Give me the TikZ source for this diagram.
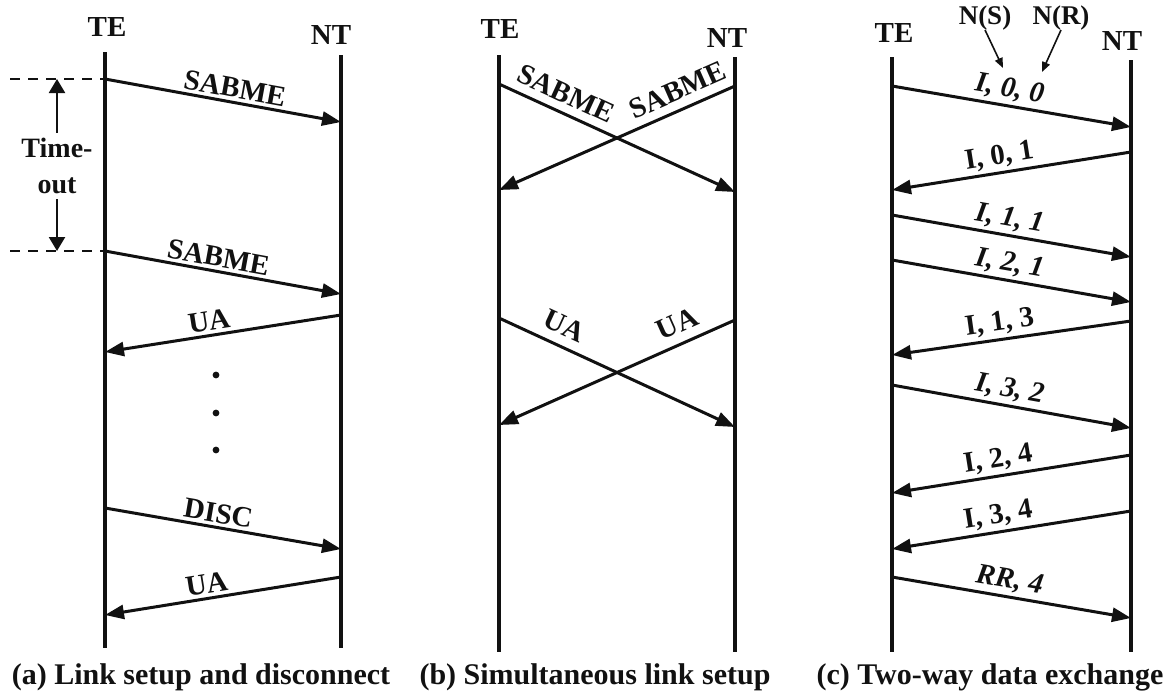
\documentclass[tikz,border=0pt]{standalone}
\usepackage{fontspec}
\setmainfont{Liberation Serif}
\usetikzlibrary{arrows.meta}
\definecolor{ink}{HTML}{111111}
\tikzset{life/.style={draw=ink,line width=3.6pt},msg/.style={draw=ink,-{Triangle[length=19pt,width=14pt]},line width=3pt},who/.style={anchor=base,inner sep=0pt,text=ink,font=\bfseries\fontsize{29}{30}\selectfont},lab/.style={sloped,above,inner sep=3pt,text=ink,font=\bfseries\fontsize{29}{30}\selectfont},subcap/.style={anchor=base,inner sep=0pt,text=ink,font=\bfseries\fontsize{30}{32}\selectfont},guide/.style={draw=ink,line width=2.4pt,dash pattern=on 10pt off 8pt},tmarrow/.style={draw=ink,line width=2.2pt,-{Triangle[length=14pt,width=16pt]}},ptr/.style={draw=ink,line width=1.6pt,-{Triangle[length=10pt,width=8pt]}}}

\begin{document}
\begin{tikzpicture}[x=1pt,y=-1pt]
\useasboundingbox (0,0) rectangle (1176,696);

% (a) setup with retry, then disconnect
\node[who] (teA) at (107,36) {TE};
\node[who] (ntA) at (331,45) {NT};
\coordinate (ta-top) at (105,52); \coordinate (ta-bot) at (105,648);
\coordinate (na-top) at (341,55); \coordinate (na-bot) at (341,648);
\draw[life] (ta-top)--(ta-bot); \draw[life] (na-top)--(na-bot);
\coordinate (ta1) at (105,79);  \coordinate (na1) at (341,122);
\coordinate (ta2) at (105,251); \coordinate (na2) at (341,294);
\coordinate (na3) at (341,315); \coordinate (ta3) at (105,352);
\coordinate (ta4) at (105,508); \coordinate (na4) at (341,549);
\coordinate (na5) at (341,577); \coordinate (ta5) at (105,615);
\draw[msg] (ta1)--node[lab,pos=.54]{SABME}(na1);
\draw[msg] (ta2)--node[lab,pos=.47]{SABME}(na2);
\draw[msg] (na3)--node[lab,pos=.55]{UA}(ta3);
\draw[msg] (ta4)--node[lab,pos=.47]{DISC}(na4);
\draw[msg] (na5)--node[lab,pos=.56]{UA}(ta5);
\foreach \y in {375,413,450} \fill[ink] (216,\y) circle[radius=3.4pt];
% timer
\coordinate (g1) at (10,79); \coordinate (g2) at (10,251);
\draw[guide] (g1)--(ta1); \draw[guide] (g2)--(ta2);
\node[align=center,inner sep=5pt,text=ink,font=\bfseries\fontsize{28}{36}\selectfont] (tmo) at (57,166) {Time-\\out};
\coordinate (tu) at (57,79); \coordinate (td) at (57,251);
\draw[tmarrow] (tmo.north)--(tu); \draw[tmarrow] (tmo.south)--(td);
\node[subcap] (capA) at (201,684) {(a) Link setup and disconnect};

% (b) both sides start at once
\node[who] (teB) at (500,38) {TE};
\node[who] (ntB) at (727,47) {NT};
\coordinate (tb-top) at (499,55); \coordinate (tb-bot) at (499,652);
\coordinate (nb-top) at (735,57); \coordinate (nb-bot) at (735,652);
\draw[life] (tb-top)--(tb-bot); \draw[life] (nb-top)--(nb-bot);
\coordinate (tb1) at (499,84);  \coordinate (nb2) at (735,192);
\coordinate (nb1) at (735,86);  \coordinate (tb2) at (499,190);
\coordinate (tb3) at (499,318); \coordinate (nb4) at (735,427);
\coordinate (nb3) at (735,320); \coordinate (tb4) at (499,425);
\draw[msg] (tb1)--node[lab,above=5pt,pos=.25]{SABME}(nb2);
\draw[msg] (nb1)--node[lab,above=5pt,pos=.21]{SABME}(tb2);
\draw[msg] (tb3)--node[lab,above=6pt,pos=.24]{UA}(nb4);
\draw[msg] (nb3)--node[lab,above=6pt,pos=.21]{UA}(tb4);
\node[subcap] (capB) at (595,684) {(b) Simultaneous link setup};

% (c) I-frames both ways
\node[who] (teC) at (894,42) {TE};
\node[who] (ntC) at (1122,50) {NT};
\node[who,font=\bfseries\fontsize{27}{30}\selectfont] (ns) at (985,24) {N(S)};
\node[who,font=\bfseries\fontsize{27}{30}\selectfont] (nr) at (1061,24) {N(R)};
\coordinate (ns-end) at (1003,68); \coordinate (nr-end) at (1042,72);
\draw[ptr] (ns.south)--(ns-end); \draw[ptr] (nr.south)--(nr-end);
\coordinate (tc-top) at (892,57);  \coordinate (tc-bot) at (892,652);
\coordinate (nc-top) at (1131,60); \coordinate (nc-bot) at (1131,652);
\draw[life] (tc-top)--(tc-bot); \draw[life] (nc-top)--(nc-bot);
\coordinate (tc1) at (892,86);  \coordinate (nc1) at (1131,127);
\coordinate (nc2) at (1131,152); \coordinate (tc2) at (892,190);
\coordinate (tc3) at (892,215); \coordinate (nc3) at (1131,257);
\coordinate (tc4) at (892,260); \coordinate (nc4) at (1131,302);
\coordinate (nc5) at (1131,321); \coordinate (tc5) at (892,355);
\coordinate (tc6) at (892,385); \coordinate (nc6) at (1131,428);
\coordinate (nc7) at (1131,455); \coordinate (tc7) at (892,493);
\coordinate (nc8) at (1131,511); \coordinate (tc8) at (892,549);
\coordinate (tc9) at (892,577); \coordinate (nc9) at (1131,618);
\draw[msg] (tc1)--node[lab,pos=.48]{\itshape I, 0, 0}(nc1);
\draw[msg] (nc2)--node[lab,pos=.54]{I, 0, 1}(tc2);
\draw[msg] (tc3)--node[lab,pos=.48]{\itshape I, 1, 1}(nc3);
\draw[msg] (tc4)--node[lab,pos=.48]{\itshape I, 2, 1}(nc4);
\draw[msg] (nc5)--node[lab,pos=.54]{I, 1, 3}(tc5);
\draw[msg] (tc6)--node[lab,pos=.48]{\itshape I, 3, 2}(nc6);
\draw[msg] (nc7)--node[lab,pos=.545]{I, 2, 4}(tc7);
\draw[msg] (nc8)--node[lab,pos=.545]{I, 3, 4}(tc8);
\draw[msg] (tc9)--node[lab,pos=.48]{\itshape RR, 4}(nc9);
\node[subcap] (capC) at (990,684) {(c) Two-way data exchange};
\end{tikzpicture}
\end{document}
